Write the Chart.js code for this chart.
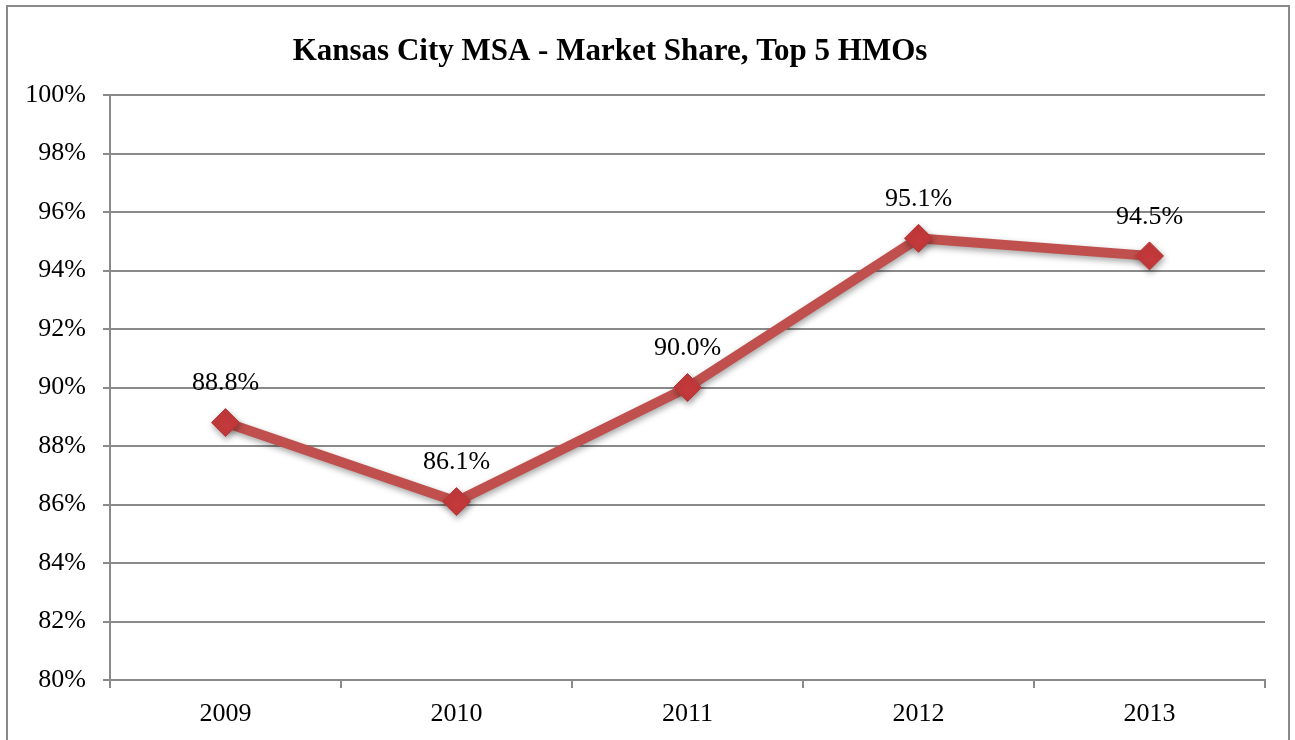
<!DOCTYPE html>
<html>
<head>
<meta charset="utf-8">
<script src="https://cdn.jsdelivr.net/npm/chart.js@4"></script>
<style>
  html, body { margin: 0; padding: 0; background: #ffffff; }
  canvas { display: block; }
</style>
</head>
<body>
<canvas id="chart" width="1295" height="740"></canvas>
<script>
// Market share of the five largest HMOs, Kansas City MSA
const years = ['2009', '2010', '2011', '2012', '2013'];
const shareTop5 = [88.8, 86.1, 90.0, 95.1, 94.5];
const yTicks = [80, 82, 84, 86, 88, 90, 92, 94, 96, 98, 100];
const chartTitle = 'Kansas City MSA - Market Share, Top 5 HMOs';

const SERIF = '"Liberation Serif", "DejaVu Serif", serif';

// Outer frame and title
const framePlugin = {
  id: 'frame',
  beforeDraw(chart) {
    const ctx = chart.ctx;
    ctx.save();
    ctx.fillStyle = '#ffffff';
    ctx.fillRect(0, 0, chart.width, chart.height);
    ctx.strokeStyle = '#8a8a8a';
    ctx.lineWidth = 2;
    ctx.strokeRect(7, 6, 1282, 800);
    ctx.fillStyle = '#000000';
    ctx.font = 'bold 31px ' + SERIF;
    ctx.textAlign = 'center';
    ctx.textBaseline = 'middle';
    ctx.fillText(chartTitle, 610, 52);
    ctx.restore();
  }
};

// Soft shadow under the line and markers
const shadowPlugin = {
  id: 'shadow',
  beforeDatasetDraw(chart) {
    const ctx = chart.ctx;
    ctx.save();
    ctx.shadowColor = 'rgba(0,0,0,0.35)';
    ctx.shadowBlur = 6;
    ctx.shadowOffsetX = 1;
    ctx.shadowOffsetY = 3;
  },
  afterDatasetDraw(chart) {
    chart.ctx.restore();
  }
};

// Value labels above each point
const valueLabels = {
  id: 'valueLabels',
  afterDatasetsDraw(chart) {
    const ctx = chart.ctx;
    const meta = chart.getDatasetMeta(0);
    const data = chart.data.datasets[0].data;
    ctx.save();
    ctx.fillStyle = '#000000';
    ctx.font = '26px ' + SERIF;
    ctx.textAlign = 'center';
    ctx.textBaseline = 'middle';
    meta.data.forEach((pt, i) => {
      ctx.fillText(data[i].toFixed(1) + '%', pt.x, pt.y - 39);
    });
    ctx.restore();
  }
};

new Chart(document.getElementById('chart'), {
  type: 'line',
  data: {
    labels: years,
    datasets: [{
      data: shareTop5,
      borderColor: '#c0504d',
      borderWidth: 10,
      pointStyle: 'rectRot',
      pointRadius: 14,
      pointHoverRadius: 14,
      pointBackgroundColor: '#c4393b',
      pointBorderColor: '#b8373a',
      pointBorderWidth: 1,
      tension: 0,
      fill: false
    }]
  },
  options: {
    responsive: false,
    devicePixelRatio: 1,
    animation: false,
    layout: { padding: { top: 95, right: 30, bottom: 0, left: 0 } },
    plugins: {
      legend: { display: false },
      tooltip: { enabled: false },
      title: { display: false }
    },
    scales: {
      x: {
        offset: true,
        afterFit(scale) { scale.height = 60; },
        grid: {
          offset: true,
          drawOnChartArea: false,
          drawTicks: true,
          tickLength: 8,
          color: '#8a8a8a',
          lineWidth: 2
        },
        border: { display: true, color: '#8a8a8a', width: 2 },
        ticks: {
          color: '#000000',
          font: { family: SERIF, size: 26 },
          padding: 11
        }
      },
      y: {
        min: 80,
        max: 100,
        afterFit(scale) { scale.width = 110; },
        afterBuildTicks(scale) { scale.ticks = yTicks.map(v => ({ value: v })); },
        grid: {
          color: '#8a8a8a',
          lineWidth: 2,
          tickLength: 7,
          drawTicks: true
        },
        border: { display: true, color: '#8a8a8a', width: 2 },
        ticks: {
          color: '#000000',
          font: { family: SERIF, size: 26 },
          padding: 17,
          callback: v => v + '%'
        }
      }
    }
  },
  plugins: [framePlugin, shadowPlugin, valueLabels]
});
</script>
</body>
</html>
